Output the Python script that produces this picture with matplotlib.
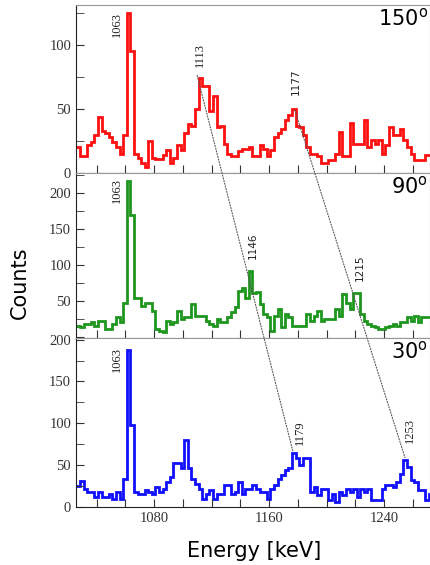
import numpy as np
import matplotlib
matplotlib.use('Agg')
import matplotlib.pyplot as plt
from matplotlib.patches import ConnectionPatch

# spectra, 2.5 keV bins starting at 1026 keV
BIN_START = 1026.0
BIN_WIDTH = 2.5

counts_150 = [20, 13, 13, 22, 24, 30, 44, 33, 31, 28,
              24, 20, 15, 30, 125, 95, 15, 12, 8, 5,
              25, 12, 11, 11, 14, 18, 8, 12, 22, 18,
              31, 38, 37, 50, 74, 68, 68, 48, 60, 36,
              37, 23, 15, 13, 13, 17, 19, 19, 20, 13,
              13, 22, 19, 13, 18, 28, 31, 34, 41, 45,
              50, 37, 36, 30, 20, 15, 15, 13, 8, 8,
              10, 10, 15, 32, 13, 13, 39, 23, 23, 23,
              41, 20, 26, 23, 26, 15, 22, 36, 30, 30,
              34, 26, 20, 15, 10, 10, 10, 14, 14]

counts_90 = [15, 13, 17, 18, 20, 15, 22, 22, 11, 11,
             18, 27, 20, 47, 217, 169, 54, 54, 43, 47,
             47, 36, 11, 8, 6, 22, 18, 20, 36, 25,
             27, 27, 45, 29, 29, 29, 22, 18, 15, 25,
             20, 20, 27, 34, 41, 64, 68, 54, 91, 61,
             62, 45, 31, 27, 8, 29, 38, 13, 31, 27,
             15, 15, 15, 15, 31, 22, 29, 36, 22, 25,
             25, 25, 38, 29, 59, 47, 38, 61, 61, 31,
             22, 18, 15, 13, 11, 11, 13, 15, 18, 15,
             20, 20, 27, 22, 29, 20, 27, 27, 27]

counts_30 = [25, 31, 22, 18, 18, 12, 18, 12, 12, 15,
             10, 18, 10, 34, 188, 98, 18, 15, 15, 20,
             18, 16, 24, 18, 22, 30, 36, 52, 52, 46,
             80, 46, 34, 28, 22, 10, 16, 20, 10, 16,
             16, 26, 26, 16, 18, 30, 16, 22, 22, 26,
             22, 18, 18, 10, 22, 26, 34, 38, 44, 46,
             64, 58, 50, 58, 58, 18, 24, 14, 22, 22,
             8, 16, 6, 18, 14, 22, 18, 22, 12, 22,
             18, 22, 8, 8, 8, 22, 26, 26, 24, 30,
             40, 56, 48, 32, 30, 20, 20, 8, 16]

angles = ['150', '90', '30']
colors = ['#ff1010', '#1e961e', '#1010ff']
ylims = [(0, 131), (-2, 228), (0, 202)]

# peak labels: (text, energy, counts, family)
labels_150 = [('1063', 1054.3, 116, 'serif'), ('1113', 1112, 92, 'serif'),
              ('1177', 1178.8, 71, 'sans-serif')]
labels_90 = [('1063', 1054.3, 203, 'serif'), ('1146', 1148.9, 126, 'sans-serif'),
             ('1215', 1223.3, 96, 'sans-serif')]
labels_30 = [('1063', 1054.0, 176, 'serif'), ('1179', 1181.6, 89, 'serif'),
             ('1253', 1258.0, 92, 'serif')]

# dotted guide lines: top panel point -> bottom panel point
guide_1 = [(1110, 76), (1176.7, 66)]
guide_2 = [(1178, 49), (1254.6, 59)]

plt.rcParams['font.serif'] = ['Liberation Serif', 'DejaVu Serif']
plt.rcParams['font.sans-serif'] = ['DejaVu Sans']

fig = plt.figure(figsize=(4.31, 5.65), dpi=100)
L, W = 76 / 431, 354 / 431
boxes = [(L, 0.6938, W, 0.2973), (L, 0.4018, W, 0.2920), (L, 0.1027, W, 0.2991)]

all_counts = [counts_150, counts_90, counts_30]
all_labels = [labels_150, labels_90, labels_30]
axes = []
for k in range(3):
    ax = fig.add_axes(boxes[k])
    axes.append(ax)
    vals = np.array(all_counts[k], dtype=float)
    edges = BIN_START + BIN_WIDTH * np.arange(len(vals) + 1)
    ax.stairs(vals, edges, baseline=None, color=colors[k], lw=2.0)
    ax.set_xlim(1025.7, 1272)
    ax.set_ylim(*ylims[k])
    ax.set_xticks(np.arange(1040, 1271, 20))
    if k == 2:
        ax.set_xticklabels([str(v) if v % 80 == 40 and v >= 1080 else ''
                            for v in range(1040, 1271, 20)])
    else:
        ax.set_xticklabels([])
    top = ylims[k][1]
    yt = np.arange(0, top + 1, 50)
    ax.set_yticks(yt)
    ax.set_yticks(np.arange(0, top + 1, 25), minor=True)
    ylab = [str(int(v)) for v in yt]
    if k == 1:
        ylab[0] = ''
    ax.set_yticklabels(ylab)
    ax.tick_params(which='both', direction='in', labelsize=10.5,
                   labelcolor='#333333', color='#333333')
    ax.tick_params(which='major', length=6)
    ax.tick_params(which='minor', length=6)
    for lab in ax.get_xticklabels() + ax.get_yticklabels():
        lab.set_family('serif')
    for s in ['top', 'right']:
        ax.spines[s].set_color('#999999')
    for s in ['left', 'bottom']:
        ax.spines[s].set_color('#222222')
    ax.set_facecolor('white')
    for txt, e, c, fam in all_labels[k]:
        ax.text(e, c, txt, rotation=90, ha='center', va='center',
                fontsize=9 if fam == 'serif' else 7.5, family=fam, color='#222222')
    ax.text(0.995, 0.985, angles[k] + r'$^\mathrm{o}$', transform=ax.transAxes,
            ha='right', va='top', fontsize=15)

for g in [guide_1, guide_2]:
    con = ConnectionPatch(xyA=g[0], coordsA='data', axesA=axes[0],
                          xyB=g[1], coordsB='data', axesB=axes[2],
                          linestyle=(0, (1, 1.5)), color='#555555', lw=0.8)
    fig.add_artist(con)

fig.text(0.046, 0.50, 'Counts', rotation=90, ha='center', va='center', fontsize=15)
fig.text(0.59, 0.025, 'Energy [keV]', ha='center', va='center', fontsize=15)

fig.savefig('out.png', dpi=100)
